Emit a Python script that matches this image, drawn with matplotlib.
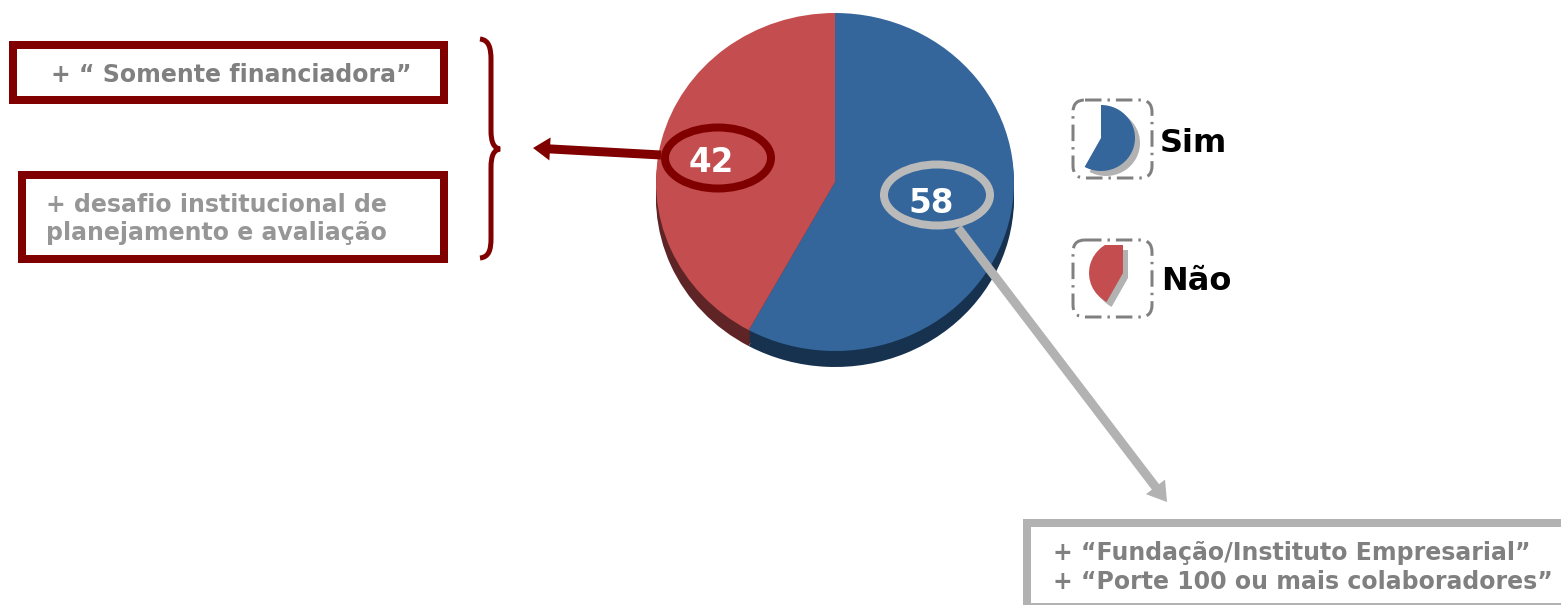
import matplotlib
matplotlib.use("Agg")
import matplotlib.pyplot as plt
from matplotlib.patches import Rectangle, Ellipse, FancyBboxPatch, PathPatch
from matplotlib.path import Path

categories = ["Sim", "Não"]
values = [58, 42]
colors = ["#34659B", "#C44E4F"]
shadow_colors = ["#17324F", "#5F2426"]
note_left_top = "+ “ Somente financiadora”"
note_left_bottom = ["+ desafio institucional de", "planejamento e avaliação"]
note_right = ["+ “Fundação/Instituto Empresarial”", "+ “Porte 100 ou mais colaboradores”"]

W, H = 1561, 605
RED = "#800000"
GREY = "#B2B2B2"
px = 0.72
fig = plt.figure(figsize=(W / 100, H / 100), dpi=100)
ax = fig.add_axes([0, 0, 1, 1], zorder=5)
ax.set_xlim(0, W)
ax.set_ylim(H, 0)
ax.axis("off")
ax.patch.set_alpha(0)


def pie_axes(cx, cy, rx, ry, zorder):
    a = fig.add_axes([(cx - rx) / W, 1 - (cy + ry) / H, 2 * rx / W, 2 * ry / H], zorder=zorder)
    a.axis("off")
    return a


def draw_pie(a, vals, cols):
    wedges, _ = a.pie(vals, colors=cols, startangle=90, counterclock=False, radius=1,
                      wedgeprops={"linewidth": 0})
    a.set_aspect("auto")
    a.set_xlim(-1, 1)
    a.set_ylim(-1, 1)
    return wedges


# main pie with its extruded edge
for off, cols, z in [(i, shadow_colors, 1) for i in (16, 12, 8, 4)] + [(0, colors, 2)]:
    draw_pie(pie_axes(835, 182 + off, 179, 169, z), values, cols)


# legend icons: a single slice each, with a grey offset shadow
def icon(cx, cy, ry, idx, clip_top):
    for dx, col, z in [(5, GREY, 3), (0, colors[idx], 4)]:
        a = pie_axes(cx + dx, cy + dx, 34, ry, z)
        wedges = draw_pie(a, list(values), list(colors))
        wedges[1 - idx].set_visible(False)
        wedges[idx].set_facecolor(col)
        if clip_top is not None:
            rect = Rectangle((0, clip_top + dx), W, H, transform=ax.transData)
            wedges[idx].set_clip_on(True)
            wedges[idx].set_clip_path(rect)


icon(1101, 138, 33, 0, None)
icon(1123, 273, 33, 1, 245)

for y0, y1 in [(100, 178), (240, 317)]:
    ax.add_patch(FancyBboxPatch((1073 + 12, y0 + 12), 79 - 24, y1 - y0 - 24,
                                boxstyle="round,pad=12,rounding_size=12",
                                fc="none", ec="#808080", lw=3 * px, ls=(0, (5.5, 2, 0.8, 2))))

# text boxes
for x0, y0, x1, y1, c in [(9, 41, 448, 104, RED), (18, 171, 448, 263, RED), (1023, 519, 1575, 611, GREY)]:
    ax.add_patch(Rectangle((x0 + 4, y0 + 4), x1 - x0 - 8, y1 - y0 - 8, fc="white", ec=c,
                           lw=8 * px, joinstyle="miter"))

tk = dict(fontfamily="DejaVu Sans", fontweight="bold", va="baseline", ha="left")
ax.text(51, 82, note_left_top, color="#808080", fontsize=17, **tk)
ax.text(46, 212, note_left_bottom[0], color="#969696", fontsize=17, **tk)
ax.text(46, 240, note_left_bottom[1], color="#969696", fontsize=17, **tk)
ax.text(1053, 560, note_right[0], color="#808080", fontsize=17, **tk)
ax.text(1053, 589, note_right[1], color="#808080", fontsize=17, **tk)

# brace
verts = [(480, 39), (489, 40), (491, 48), (491, 60), (491, 130), (491, 143), (494, 148), (500, 149),
         (494, 150), (491, 155), (491, 168), (491, 238), (491, 250), (489, 257), (480, 258)]
codes = [Path.MOVETO] + [Path.CURVE4] * 3 + [Path.LINETO] + \
        [Path.CURVE4] * 3 + [Path.CURVE4] * 3 + [Path.LINETO] + [Path.CURVE4] * 3
ax.add_patch(PathPatch(Path(verts, codes), fc="none", ec=RED, lw=5 * px))

# callouts
ax.arrow(661, 155, 533 - 661, 148 - 155, width=9, head_width=23, head_length=17,
         length_includes_head=True, fc=RED, ec="none")
ax.arrow(958, 228, 1167 - 958, 502 - 228, width=9, head_width=24, head_length=19,
         length_includes_head=True, fc=GREY, ec="none")
ax.add_patch(Ellipse((718, 158), 106, 61, fc="none", ec=RED, lw=8 * px))
ax.add_patch(Ellipse((937, 195), 106, 61, fc="none", ec="#BABABA", lw=8 * px))
num = dict(color="white", fontsize=23.5, fontweight="bold", ha="center", va="baseline")
ax.text(711, 172, str(values[1]), **num)
ax.text(931, 213, str(values[0]), **num)

ax.text(1160, 152, categories[0], color="black", fontsize=23, **tk)
ax.text(1161, 290, categories[1], color="black", fontsize=23, **tk)

fig.savefig("out.png", dpi=100, facecolor="white")
